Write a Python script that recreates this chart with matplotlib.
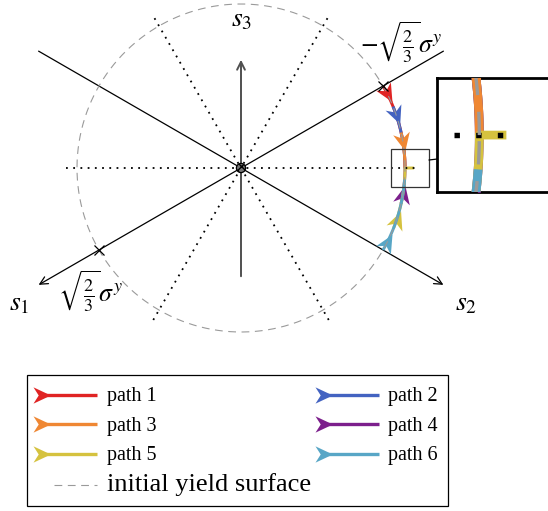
import numpy as np
import matplotlib
matplotlib.use("Agg")
import matplotlib.pyplot as plt
from matplotlib.lines import Line2D
from matplotlib.patches import Circle, Rectangle, ConnectionPatch
from matplotlib.path import Path
from matplotlib.markers import MarkerStyle
from matplotlib.transforms import Affine2D
from matplotlib.legend_handler import HandlerBase

plt.rcParams['font.family'] = 'Liberation Serif'
plt.rcParams['mathtext.fontset'] = 'stix'

# === DATA (lengths in units of the yield radius sqrt(2/3) sigma^y) ===
path_labels = ["path 1", "path 2", "path 3", "path 4", "path 5", "path 6"]
path_colors = ["#e02424", "#4363c1", "#ef8733", "#7c1f8c", "#d5c23f", "#58a6c6"]
path_start_deg = [30, 22, 12.5, -12.5, -21.5, -30]
path_end_deg = [0, 0, 0, 0, 0, -4]
path5_stub_r = [1.0, 1.055]   # radial push-out at the end of path 5

yield_radius = 1.0
axis_dirs_deg = [210, 330]    # s1, s2
axis_len = 1.425
s3_len = 0.66
dotted_dirs_deg = [0, 60, 120]
dotted_len = 1.07
cross_deg = [30, 210]

zoom_center = (1.03, 0.0)
zoom_half = 0.116
zoom_mag = 3.0

PX = 164.0  # pixels per unit


def arrow_marker(angle):
    verts = [(0, 0.47), (1, 0), (0, -0.47), (0.3, 0), (0, 0.47)]
    codes = [Path.MOVETO, Path.LINETO, Path.LINETO, Path.LINETO, Path.CLOSEPOLY]
    return MarkerStyle(Path(verts, codes), transform=Affine2D().rotate_deg(angle))


def draw_scene(ax, k=1.0, main=True):
    t = np.linspace(0, 2 * np.pi, 500)
    circ, = ax.plot(yield_radius * np.cos(t), yield_radius * np.sin(t),
                    color='#9a9a9a', lw=0.8 * k, ls=(0, (7, 5)), zorder=5)

    for d in dotted_dirs_deg:
        c, s = np.cos(np.radians(d)), np.sin(np.radians(d))
        ax.plot([-dotted_len * c, dotted_len * c], [-dotted_len * s, dotted_len * s],
                color='k', lw=1.3 * k, ls=(0, (1, 3)), zorder=4)

    for d in axis_dirs_deg:
        c, s = np.cos(np.radians(d)), np.sin(np.radians(d))
        tip, tail = (axis_len * c, axis_len * s), (-axis_len * c, -axis_len * s)
        if main:
            ax.annotate('', xy=tip, xytext=tail,
                        arrowprops=dict(arrowstyle='->', lw=0.9, color='k',
                                        shrinkA=0, shrinkB=0, mutation_scale=14))
        else:
            ax.plot([tail[0], tip[0]], [tail[1], tip[1]], color='k', lw=0.9 * k)

    if main:
        ax.annotate('', xy=(0, s3_len), xytext=(0, -s3_len),
                    arrowprops=dict(arrowstyle='->', lw=1.4, color='#505050',
                                    shrinkA=0, shrinkB=0, mutation_scale=14))
        ax.add_patch(Circle((0, 0), 0.028, fc='#777777', ec='k', lw=0.9,
                            hatch='xxxx', zorder=6))
        for d in cross_deg:
            ax.plot(yield_radius * np.cos(np.radians(d)), yield_radius * np.sin(np.radians(d)),
                    marker='x', ms=7, mew=0.9, color='k', zorder=6)

    handles = []
    for i in range(len(path_labels)):
        th = np.radians(np.linspace(path_start_deg[i], path_end_deg[i], 80))
        x = yield_radius * np.cos(th)
        y = yield_radius * np.sin(th)
        if i == 4:
            x = np.append(x, path5_stub_r[1])
            y = np.append(y, 0.0)
        ang = np.degrees(np.arctan2(y[1] - y[0], x[1] - x[0]))
        ln, = ax.plot(x, y, color=path_colors[i], lw=2.1 * k,
                      solid_capstyle='butt', zorder=3)
        ax.plot(x[0], y[0], ls='', marker=arrow_marker(ang), ms=26 * k,
                color=path_colors[i], mew=0, zorder=3)
        handles.append(ln)
    return handles, circ


class ArrowLineHandler(HandlerBase):
    def create_artists(self, legend, orig_handle, xdescent, ydescent,
                       width, height, fontsize, trans):
        x0 = -xdescent - 3
        yc = -ydescent + height / 2
        c = orig_handle.get_color()
        line = Line2D([x0 + 6, -xdescent + width], [yc, yc], color=c, lw=2.4,
                      solid_capstyle='butt', transform=trans)
        head = Line2D([x0], [yc], ls='', marker=arrow_marker(0), ms=25, color=c,
                      mew=0, transform=trans)
        return [line, head]


class ShortDashHandler(HandlerBase):
    def create_artists(self, legend, orig_handle, xdescent, ydescent,
                       width, height, fontsize, trans):
        x0 = -xdescent
        yc = -ydescent + height / 2
        line = Line2D([x0 + 0.28 * width, x0 + width], [yc, yc], color='#9a9a9a',
                      lw=0.8, ls=(0, (7, 5)), transform=trans)
        return [line]


fig = plt.figure(figsize=(5.48, 5.11), dpi=100)
ax = fig.add_axes([0, 0, 1, 1])
ax.set_xlim(-241 / PX, 307 / PX)
ax.set_ylim(-343 / PX, 168 / PX)
ax.axis('off')

handles, circ = draw_scene(ax)

ax.text(0.006, 0.90, r'$s_3$', fontsize=20, ha='center', va='center')
ax.text(-1.35, -0.83, r'$s_1$', fontsize=20, ha='center', va='center')
ax.text(1.37, -0.83, r'$s_2$', fontsize=20, ha='center', va='center')
ax.text(-0.915, -0.755, r'$\sqrt{\frac{2}{3}}\sigma^y$', fontsize=18.5, ha='center', va='center')
ax.text(0.975, 0.765, r'$-\sqrt{\frac{2}{3}}\sigma^y$', fontsize=18.5, ha='center', va='center')

# zoomed view around the end of the paths
cx, cy = zoom_center
ax.add_patch(Rectangle((cx - zoom_half, cy - zoom_half), 2 * zoom_half, 2 * zoom_half,
                       fill=False, ec='#333333', lw=0.9, zorder=7))
size_px = 2 * zoom_half * PX * zoom_mag
axins = fig.add_axes([437 / 548, (511 - 78 - size_px) / 511, size_px / 548, size_px / 511])
axins.set_xlim(cx - zoom_half, cx + zoom_half)
axins.set_ylim(cy - zoom_half, cy + zoom_half)
axins.set_xticks([])
axins.set_yticks([])
for sp in axins.spines.values():
    sp.set_linewidth(2.0)
draw_scene(axins, zoom_mag, main=False)
fig.add_artist(ConnectionPatch(xyA=(cx + zoom_half, cy + 0.42 * zoom_half), coordsA=ax.transData,
                               xyB=(0, 0.29), coordsB=axins.transAxes, color='k', lw=0.9))

leg_handles = [handles[0], handles[2], handles[4], circ, handles[1], handles[3], handles[5]]
leg_labels = [path_labels[0], path_labels[2], path_labels[4], 'initial yield surface',
              path_labels[1], path_labels[3], path_labels[5]]
hmap = {h: ArrowLineHandler() for h in handles}
hmap[circ] = ShortDashHandler()
leg = fig.legend(leg_handles, leg_labels, ncol=2, loc='upper left',
                 bbox_to_anchor=(27 / 548, 1 - 375 / 511), borderaxespad=0,
                 frameon=True, fancybox=False, edgecolor='k', framealpha=1,
                 fontsize=14.5, handlelength=3.0, handleheight=1.08,
                 handletextpad=0.45, columnspacing=0.4, labelspacing=0.4,
                 borderpad=0.5, handler_map=hmap)
leg.get_frame().set_linewidth(0.9)
for t in leg.get_texts():
    if t.get_text() == 'initial yield surface':
        t.set_fontsize(19)

fig.savefig('out.png', dpi=100)
